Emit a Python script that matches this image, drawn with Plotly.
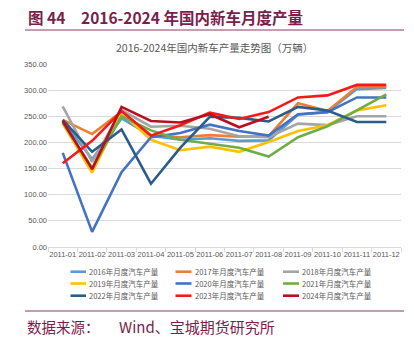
import plotly.graph_objects as go

months = ["2011-01", "2011-02", "2011-03", "2011-04", "2011-05", "2011-06",
          "2011-07", "2011-08", "2011-09", "2011-10", "2011-11", "2011-12"]

names = ["2016年月度汽车产量", "2017年月度汽车产量", "2018年月度汽车产量",
         "2019年月度汽车产量", "2020年月度汽车产量", "2021年月度汽车产量",
         "2022年月度汽车产量", "2023年月度汽车产量", "2024年月度汽车产量"]

y2016 = [241, 168, 246, 213, 205, 208, 203, 204, 253, 258, 302, 304]
y2017 = [243, 216, 259, 214, 210, 214, 211, 212, 275, 260, 306, 306]
y2018 = [269, 163, 262, 230, 232, 226, 212, 210, 236, 233, 250, 250]
y2019 = [236, 142, 256, 205, 185, 192, 182, 201, 222, 233, 261, 271]
y2020 = [180, 29, 143, 210, 218, 234, 222, 213, 254, 258, 286, 286]
y2021 = [238, 151, 250, 223, 205, 197, 190, 173, 210, 231, 262, 292]
y2022 = [243, 182, 225, 121, 190, 249, 247, 240, 268, 261, 239, 239]
y2023 = [160, 203, 260, 213, 233, 257, 245, 258, 286, 290, 310, 310]
y2024 = [241, 149, 268, 241, 238, 254, 229, 249]

series = [y2016, y2017, y2018, y2019, y2020, y2021, y2022, y2023, y2024]
colors = ["#5B9BD5", "#ED7D31", "#A5A5A5", "#FFC000", "#4472C4",
          "#70AD47", "#2B5C8A", "#F51A1A", "#B8101E"]

W, H = 414, 339
PL, PR, PT, PB = 48, 401, 64, 247  # plot area in pixels


def px(x):
    return (x - PL) / (PR - PL)


def py(y):
    return (PB - y) / (PB - PT)


fig = go.Figure()
for nm, ys, c in zip(names, series, colors):
    fig.add_trace(go.Scatter(x=months[:len(ys)], y=ys, name=nm, mode="lines",
                             line=dict(color=c, width=2.6), showlegend=False))

tick_font = dict(family="Liberation Sans Narrow, Arial Narrow, Liberation Sans", size=7.5, color="#595959")
cjk = "Noto Sans CJK SC"
maroon = "#7A1E4C"

fig.update_layout(
    width=W, height=H,
    margin=dict(l=PL, r=W - PR, t=PT, b=H - PB),
    paper_bgcolor="white", plot_bgcolor="white",
    xaxis=dict(type="category", showgrid=False, showline=True, linecolor="#D9D9D9",
               linewidth=1, ticks="outside", tickson="boundaries", ticklen=4,
               tickcolor="#D9D9D9", tickfont=tick_font, tickangle=0,
               range=[-0.5, 11.5]),
    yaxis=dict(range=[0, 350], dtick=50, tickformat=".2f", showgrid=True,
               gridcolor="#D9D9D9", gridwidth=1, zeroline=False, showline=False,
               tickfont=tick_font, ticks=""),
    showlegend=False,
)

shapes = []
annotations = []

# Header and footer rules
for yy in (30, 311):
    shapes.append(dict(type="line", xref="paper", yref="paper",
                       x0=px(25), x1=px(404), y0=py(yy), y1=py(yy),
                       line=dict(color="#8E3A66", width=1)))


def label(x, y, text, size, color, anchor="left", bold=False):
    if bold:
        text = "<b>" + text + "</b>"
    annotations.append(dict(xref="paper", yref="paper", x=px(x), y=py(y),
                            xanchor=anchor, yanchor="middle", showarrow=False,
                            text=text, font=dict(family=cjk, size=size, color=color)))


label(26, 16.5, "图 44", 15.5, maroon, bold=True)
label(79, 16.5, "2016-2024 年国内新车月度产量", 15.5, maroon, bold=True)
label(214.5, 48, "2016-2024年国内新车产量走势图（万辆）", 10.5, "#595959", anchor="center")
label(25, 326, "数据来源：", 14.5, maroon)
label(117, 326, "Wind、宝城期货研究所", 15, maroon)

# Manual legend, 3 columns x 3 rows
col_line_x = [(70.5, 86), (175.5, 191.5), (283, 299)]
row_y = [271.7, 283.5, 295.7]
for i, (nm, c) in enumerate(zip(names, colors)):
    r, col = divmod(i, 3)
    x0, x1 = col_line_x[col]
    yy = row_y[r]
    shapes.append(dict(type="line", xref="paper", yref="paper",
                       x0=px(x0), x1=px(x1), y0=py(yy), y1=py(yy),
                       line=dict(color=c, width=2.6)))
    label(x1 + 1, yy, nm, 7.5, "#595959")

fig.update_layout(shapes=shapes, annotations=annotations)
fig.write_html("out.html")
